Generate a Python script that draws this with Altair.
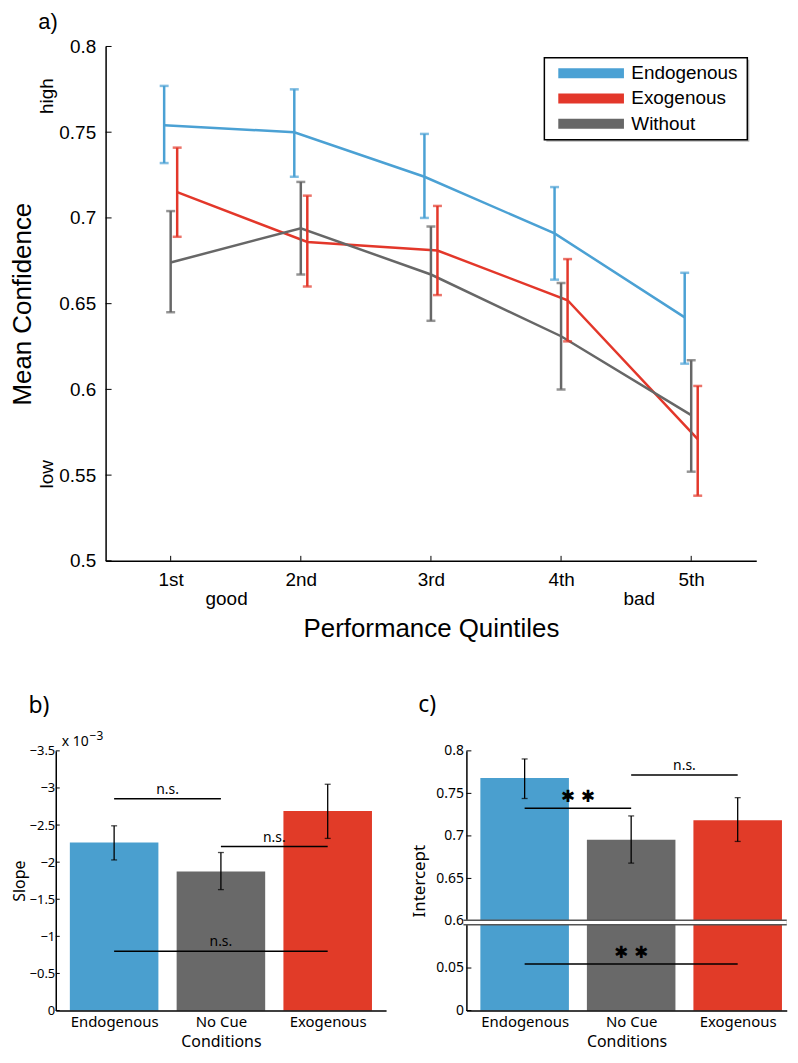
import json
import altair as alt
import pandas as pd

# ---------------- Panel a data ----------------
quintiles = [1, 2, 3, 4, 5]
quintile_labels = ["1st", "2nd", "3rd", "4th", "5th"]
series_names = ["Endogenous", "Exogenous", "Without"]
endo_mean = [0.754, 0.750, 0.724, 0.691, 0.642]
endo_upper = [0.777, 0.775, 0.749, 0.718, 0.668]
endo_lower = [0.732, 0.724, 0.700, 0.664, 0.615]
exo_mean = [0.715, 0.686, 0.681, 0.652, 0.571]
exo_upper = [0.741, 0.713, 0.707, 0.676, 0.602]
exo_lower = [0.689, 0.660, 0.655, 0.628, 0.538]
without_mean = [0.674, 0.694, 0.667, 0.631, 0.585]
without_upper = [0.704, 0.721, 0.695, 0.662, 0.617]
without_lower = [0.645, 0.667, 0.640, 0.600, 0.552]
a_y_ticks = [0.5, 0.55, 0.6, 0.65, 0.7, 0.75, 0.8]
a_side_labels = ["high", "low"]
a_side_values = [0.771, 0.5505]
a_bottom_labels = ["good", "bad"]
a_bottom_positions = [1.43, 4.6]

# ---------------- Panel b data ----------------
conditions = ["Endogenous", "No Cue", "Exogenous"]
condition_positions = [1, 2, 3]
slope_mean = [-2.265, -1.875, -2.69]
slope_upper = [-2.49, -2.13, -3.05]
slope_lower = [-2.03, -1.63, -2.32]
b_y_ticks = [-3.5, -3.0, -2.5, -2.0, -1.5, -1.0, -0.5, 0.0]
b_sig_start = [1, 2, 1]
b_sig_end = [2, 3, 3]
b_sig_level = [-2.855, -2.21, -0.80]
b_sig_text = ["n.s.", "n.s.", "n.s."]

# ---------------- Panel c data ----------------
intercept_mean = [0.768, 0.6955, 0.7185]
intercept_upper = [0.7905, 0.7235, 0.745]
intercept_lower = [0.744, 0.668, 0.6935]
c_y_ticks = [0, 0.05, 0.6, 0.65, 0.7, 0.75, 0.8]
c_sig_start = [1, 2, 1]
c_sig_end = [2, 3, 3]
c_sig_level = [0.7326, 0.7715, 0.0546]
c_sig_text = ["\u2731 \u2731", "n.s.", "\u2731 \u2731"]

# ---------------- styles / layout ----------------
FA = "Liberation Sans"
FB = "Noto Sans"
BLUE, RED, GRAY = "#4ba1d4", "#e3372a", "#676767"
BLUE_BAR, GRAY_BAR, RED_BAR = "#4a9fcf", "#696969", "#e13b28"
SERIES_OFFSET = {"Endogenous": -0.05, "Exogenous": 0.05, "Without": 0.0}
A_OFF = 50.1                 # panel a plot starts this far right of panel b
W_A, H_A = 654, 517
W_B, H_B = 332, 261
W_C, H_C = 322, 261
GAP = 2.107                  # broken-axis position of 0.6 (in 0.05 steps)
BREAK_POS = 2.07
LEG_X0, LEG_X1, LEG_Y0, LEG_Y1 = 441 + A_OFF, 645 + A_OFF, 11.3, 93.7
LEG_SW0, LEG_SW1, LEG_TX = 455 + A_OFF, 521 + A_OFF, 528.4 + A_OFF
LEG_ROW0, LEG_ROW_STEP = 27, 25.3


def brk(v):
    return v / 0.05 if v < 0.3 else GAP + (v - 0.6) / 0.05


def brk_expr(f):
    return f"datum['{f}'] < 0.3 ? datum['{f}'] / 0.05 : {GAP} + (datum['{f}'] - 0.6) / 0.05"


# ================= Panel a =================
rows = []
for name, m, lo, hi in zip(series_names,
                           [endo_mean, exo_mean, without_mean],
                           [endo_lower, exo_lower, without_lower],
                           [endo_upper, exo_upper, without_upper]):
    for q, a, l, h in zip(quintiles, m, lo, hi):
        rows.append({"series": name, "q": q, "mean": a, "lower": l, "upper": h})
df_a = pd.DataFrame(rows)
df_a["xpos"] = df_a["q"] + df_a["series"].map(SERIES_OFFSET)

xa_scale = alt.Scale(domain=[0.5, 5.5], range=[A_OFF, A_OFF + W_A], nice=False, zero=False)
ya_scale = alt.Scale(domain=[0.5, 0.8], nice=False, zero=False)
color_a = alt.Scale(domain=series_names, range=[BLUE, RED, GRAY])

xa_axis = alt.Axis(values=quintiles, tickCount=len(quintiles),
                   labelExpr=f"{json.dumps(quintile_labels)}[datum.value - 1]",
                   ticks=False, labelFlush=False, labelOverlap=False, labelPadding=10,
                   labelFontSize=19, labelFont=FA, labelColor="black",
                   domainColor="black", domainWidth=1.5,
                   title="Performance Quintiles", titleFont=FA, titleFontSize=26,
                   titleX=A_OFF + W_A / 2,
                   titleFontWeight="normal", titleColor="black", titlePadding=26, grid=False)
ya_axis = alt.Axis(values=a_y_ticks, tickCount=len(a_y_ticks),
                   labelExpr="format(datum.value, '~g')", ticks=False,
                   offset=-A_OFF,
                   labelOverlap=False, labelPadding=10, labelFontSize=19, labelFont=FA,
                   labelColor="black", domainColor="black", domainWidth=1.5,
                   title="Mean Confidence", titleFont=FA, titleFontSize=26,
                   titleFontWeight="normal", titleColor="black", titlePadding=24, grid=False)

base_a = alt.Chart(df_a)
lines_a = base_a.mark_line(strokeWidth=2.5).encode(
    x=alt.X("xpos:Q", scale=xa_scale, axis=xa_axis),
    y=alt.Y("mean:Q", scale=ya_scale, axis=ya_axis),
    color=alt.Color("series:N", scale=color_a, legend=None),
)
err_a = base_a.mark_rule(strokeWidth=2.5).encode(
    x=alt.X("xpos:Q", scale=xa_scale),
    y=alt.Y("lower:Q", scale=ya_scale),
    y2="upper:Q",
    color=alt.Color("series:N", scale=color_a, legend=None),
)
cap_lo_a = base_a.mark_tick(orient="horizontal", size=9, thickness=2.5).encode(
    x=alt.X("xpos:Q", scale=xa_scale),
    y=alt.Y("lower:Q", scale=ya_scale),
    color=alt.Color("series:N", scale=color_a, legend=None),
)
cap_hi_a = base_a.mark_tick(orient="horizontal", size=9, thickness=2.5).encode(
    x=alt.X("xpos:Q", scale=xa_scale),
    y=alt.Y("upper:Q", scale=ya_scale),
    color=alt.Color("series:N", scale=color_a, legend=None),
)
yticks_a = alt.Chart(pd.DataFrame({"v": a_y_ticks})).mark_rule(color="black", strokeWidth=1).encode(
    y=alt.Y("v:Q", scale=ya_scale), x=alt.value(A_OFF), x2=alt.value(A_OFF + 6))
xticks_a = alt.Chart(pd.DataFrame({"q": quintiles})).mark_rule(color="black", strokeWidth=1).encode(
    x=alt.X("q:Q", scale=xa_scale), y=alt.value(H_A), y2=alt.value(H_A - 5))
side_a = alt.Chart(pd.DataFrame({"t": a_side_labels, "v": a_side_values})).mark_text(
    angle=270, fontSize=19, font=FA, color="black").encode(
    x=alt.value(A_OFF - 58.7), y=alt.Y("v:Q", scale=ya_scale), text="t:N")
bottom_a = alt.Chart(pd.DataFrame({"t": a_bottom_labels, "x": a_bottom_positions})).mark_text(
    fontSize=19, font=FA, color="black", baseline="alphabetic").encode(
    x=alt.X("x:Q", scale=xa_scale), y=alt.value(H_A + 44), text="t:N")
tag_a = alt.Chart(pd.DataFrame({"t": ["a)"]})).mark_text(
    fontSize=22, font=FA, color="black", align="left", baseline="alphabetic").encode(
    x=alt.value(A_OFF - 67.6), y=alt.value(-18), text="t:N")

# legend (drawn as a guide box)
df_leg = pd.DataFrame({"series": series_names, "row": list(range(len(series_names)))})
leg_base = alt.Chart(df_leg).transform_calculate(py=f"{LEG_ROW0} + {LEG_ROW_STEP} * datum.row")
leg_shadow = alt.Chart(pd.DataFrame({"t": [0]})).mark_rect(fill="#bbbbbb").encode(
    x=alt.value(LEG_X0 + 2), x2=alt.value(LEG_X1 + 2), y=alt.value(LEG_Y0 + 2), y2=alt.value(LEG_Y1 + 2))
leg_box = alt.Chart(pd.DataFrame({"t": [0]})).mark_rect(fill="white", stroke="black", strokeWidth=1.5).encode(
    x=alt.value(LEG_X0), x2=alt.value(LEG_X1), y=alt.value(LEG_Y0), y2=alt.value(LEG_Y1))
leg_sw = leg_base.mark_rule(strokeWidth=10).encode(
    x=alt.value(LEG_SW0), x2=alt.value(LEG_SW1), y=alt.Y("py:Q", scale=None),
    color=alt.Color("series:N", scale=color_a, legend=None))
leg_tx = leg_base.mark_text(align="left", baseline="middle", fontSize=19, font=FA, color="black").encode(
    x=alt.value(LEG_TX), y=alt.Y("py:Q", scale=None), text="series:N")

chart_a = alt.layer(lines_a, err_a, cap_lo_a, cap_hi_a, yticks_a, xticks_a,
                    side_a, bottom_a, tag_a,
                    leg_shadow, leg_box, leg_sw, leg_tx).properties(width=A_OFF + W_A, height=H_A)

# ================= Panel b =================
cond_color = alt.Scale(domain=conditions, range=[BLUE_BAR, GRAY_BAR, RED_BAR])
df_b = pd.DataFrame({"cond": conditions, "x": condition_positions, "mean": slope_mean,
                     "upper": slope_upper, "lower": slope_lower})
xb_scale = alt.Scale(domain=[0.5, 3.5], nice=False, zero=False)
# the slope axis runs upward towards more negative values
yb_scale = alt.Scale(domain=[0, 3.5], nice=False, zero=False)
cond_label_expr = f"{json.dumps(conditions)}[datum.value - 1]"


def x_axis_bottom():
    return alt.Axis(values=condition_positions, tickCount=len(condition_positions),
                    labelExpr=cond_label_expr, ticks=False,
                    labelFlush=False, labelOverlap=False, labelPadding=4, labelFontSize=15,
                    labelFont=FB, labelColor="black", domainColor="black", domainWidth=1.5,
                    title="Conditions", titleFont=FB, titleFontSize=16,
                    titleFontWeight="normal", titleColor="black", titlePadding=4,
                    grid=False, zindex=1)


yb_axis = alt.Axis(values=[-v for v in b_y_ticks], tickCount=len(b_y_ticks),
                   labelExpr="datum.value == 0 ? '0' : '\u2212' + format(datum.value, '~g')",
                   ticks=False, labelOverlap=False, labelFlush=False,
                   labelPadding=1, labelFontSize=13, labelFont=FB, labelColor="black",
                   domainColor="black", domainWidth=1.5, title="Slope", titleFont=FB,
                   titleFontSize=16, titleFontWeight="normal", titleColor="black",
                   titlePadding=2, grid=False)

base_b = alt.Chart(df_b).transform_calculate(
    nm="-datum.mean", nl="-datum.lower", nh="-datum.upper")
bars_b = base_b.mark_bar(size=89, orient="vertical").encode(
    x=alt.X("x:Q", scale=xb_scale, axis=x_axis_bottom()),
    y=alt.Y("nm:Q", scale=yb_scale, axis=yb_axis),
    color=alt.Color("cond:N", scale=cond_color, legend=None))
err_b = base_b.mark_rule(color="black", strokeWidth=1.3).encode(
    x=alt.X("x:Q", scale=xb_scale), y=alt.Y("nl:Q", scale=yb_scale), y2="nh:Q")
caplo_b = base_b.mark_tick(orient="horizontal", size=6, thickness=1.3, color="black").encode(
    x=alt.X("x:Q", scale=xb_scale), y=alt.Y("nl:Q", scale=yb_scale))
caphi_b = base_b.mark_tick(orient="horizontal", size=6, thickness=1.3, color="black").encode(
    x=alt.X("x:Q", scale=xb_scale), y=alt.Y("nh:Q", scale=yb_scale))
df_bs = pd.DataFrame({"s": b_sig_start, "e": b_sig_end, "lvl": b_sig_level, "t": b_sig_text})
df_bs["mid"] = (df_bs["s"] + df_bs["e"]) / 2
base_bs = alt.Chart(df_bs).transform_calculate(nl="-datum.lvl")
sig_b = base_bs.mark_rule(color="black", strokeWidth=1.5).encode(
    x=alt.X("s:Q", scale=xb_scale), x2="e:Q", y=alt.Y("nl:Q", scale=yb_scale))
sigt_b = base_bs.mark_text(fontSize=14, font=FB, color="black", baseline="bottom", dy=-2).encode(
    x=alt.X("mid:Q", scale=xb_scale), y=alt.Y("nl:Q", scale=yb_scale), text="t:N")
yticks_b = alt.Chart(pd.DataFrame({"v": b_y_ticks})).transform_calculate(nv="-datum.v").mark_rule(
    color="black", strokeWidth=1).encode(
    y=alt.Y("nv:Q", scale=yb_scale), x=alt.value(0), x2=alt.value(4))
exp_b = alt.Chart(pd.DataFrame({"t": ["x 10"]})).mark_text(
    fontSize=14, font=FB, color="black", align="left", baseline="alphabetic").encode(
    x=alt.value(6), y=alt.value(-5), text="t:N")
exp2_b = alt.Chart(pd.DataFrame({"t": ["\u22123"]})).mark_text(
    fontSize=12, font=FB, color="black", align="left", baseline="alphabetic").encode(
    x=alt.value(34), y=alt.value(-11), text="t:N")
tag_b = alt.Chart(pd.DataFrame({"t": ["b)"]})).mark_text(
    fontSize=23, font=FB, color="black", align="left", baseline="alphabetic").encode(
    x=alt.value(-27.5), y=alt.value(-38), text="t:N")

chart_b = alt.layer(bars_b, err_b, caplo_b, caphi_b, sig_b, sigt_b, yticks_b,
                    exp_b, exp2_b, tag_b).properties(width=W_B, height=H_B)

# ================= Panel c =================
df_c = pd.DataFrame({"cond": conditions, "x": condition_positions, "mean": intercept_mean,
                     "upper": intercept_upper, "lower": intercept_lower})
xc_scale = alt.Scale(domain=[0.5, 0.5 + W_C / 110.5], nice=False, zero=False)
yc_scale = alt.Scale(domain=[0, brk(0.8)], nice=False, zero=False)
yc_axis = alt.Axis(values=[brk(v) for v in c_y_ticks], tickCount=len(c_y_ticks),
                   labelExpr=f"datum.value < 1.5 ? format(datum.value * 0.05, '.2~f') : format(0.6 + (datum.value - {GAP}) * 0.05, '.2~f')",
                   ticks=False, labelOverlap=False, labelPadding=3, labelFontSize=14,
                   labelFont=FB, labelColor="black", domainColor="black", domainWidth=1.5,
                   title="Intercept", titleFont=FB, titleFontSize=17,
                   titleFontWeight="normal", titleColor="black", titlePadding=7, grid=False)

base_c = alt.Chart(df_c).transform_calculate(
    pm=brk_expr("mean"), pl=brk_expr("lower"), ph=brk_expr("upper"))
bars_c = base_c.mark_bar(size=89, orient="vertical").encode(
    x=alt.X("x:Q", scale=xc_scale, axis=x_axis_bottom()),
    y=alt.Y("pm:Q", scale=yc_scale, axis=yc_axis),
    color=alt.Color("cond:N", scale=cond_color, legend=None))
err_c = base_c.mark_rule(color="black", strokeWidth=1.3).encode(
    x=alt.X("x:Q", scale=xc_scale), y=alt.Y("pl:Q", scale=yc_scale), y2="ph:Q")
caplo_c = base_c.mark_tick(orient="horizontal", size=6, thickness=1.3, color="black").encode(
    x=alt.X("x:Q", scale=xc_scale), y=alt.Y("pl:Q", scale=yc_scale))
caphi_c = base_c.mark_tick(orient="horizontal", size=6, thickness=1.3, color="black").encode(
    x=alt.X("x:Q", scale=xc_scale), y=alt.Y("ph:Q", scale=yc_scale))
df_cs = pd.DataFrame({"s": c_sig_start, "e": c_sig_end, "lvl": c_sig_level, "t": c_sig_text})
df_cs["mid"] = (df_cs["s"] + df_cs["e"]) / 2
base_cs = alt.Chart(df_cs).transform_calculate(pl=brk_expr("lvl"))
sig_c = base_cs.mark_rule(color="black", strokeWidth=1.5).encode(
    x=alt.X("s:Q", scale=xc_scale), x2="e:Q", y=alt.Y("pl:Q", scale=yc_scale))
ns_c = base_cs.transform_filter("datum.t == 'n.s.'").mark_text(
    fontSize=14, font=FB, color="black", baseline="bottom", dy=-2).encode(
    x=alt.X("mid:Q", scale=xc_scale), y=alt.Y("pl:Q", scale=yc_scale), text="t:N")
star_c = base_cs.transform_filter("datum.t != 'n.s.'").mark_text(
    fontSize=17, font="DejaVu Sans", fontWeight="bold", color="black", baseline="bottom", dy=-2).encode(
    x=alt.X("mid:Q", scale=xc_scale), y=alt.Y("pl:Q", scale=yc_scale), text="t:N")
yticks_c = alt.Chart(pd.DataFrame({"v": [brk(v) for v in c_y_ticks]})).mark_rule(
    color="black", strokeWidth=1).encode(
    y=alt.Y("v:Q", scale=yc_scale), x=alt.value(0), x2=alt.value(5))
break_df = pd.DataFrame({"p": [BREAK_POS]})
break_outer = alt.Chart(break_df).mark_rule(color="#555555", strokeWidth=6).encode(
    y=alt.Y("p:Q", scale=yc_scale), x=alt.value(-3), x2=alt.value(W_C))
break_inner = alt.Chart(break_df).mark_rule(color="white", strokeWidth=3).encode(
    y=alt.Y("p:Q", scale=yc_scale), x=alt.value(-3), x2=alt.value(W_C))
tag_c = alt.Chart(pd.DataFrame({"t": ["c)"]})).mark_text(
    fontSize=23, font=FB, color="black", align="left", baseline="alphabetic").encode(
    x=alt.value(-48.3), y=alt.value(-38.7), text="t:N")

chart_c = alt.layer(bars_c, err_c, caplo_c, caphi_c, sig_c, ns_c, star_c, yticks_c,
                    break_outer, break_inner, tag_c).properties(width=W_C, height=H_C)

bottom_row = alt.hconcat(chart_b, chart_c, spacing=80.75, bounds="flush")

chart = alt.vconcat(
    chart_a, bottom_row, spacing=191, bounds="flush",
).resolve_scale(color="independent").properties(
    padding={"left": 1, "top": 0, "right": 0, "bottom": 0}
).configure_view(strokeWidth=0)

chart.save("out.html", embed_options={"renderer": "svg", "actions": False})
